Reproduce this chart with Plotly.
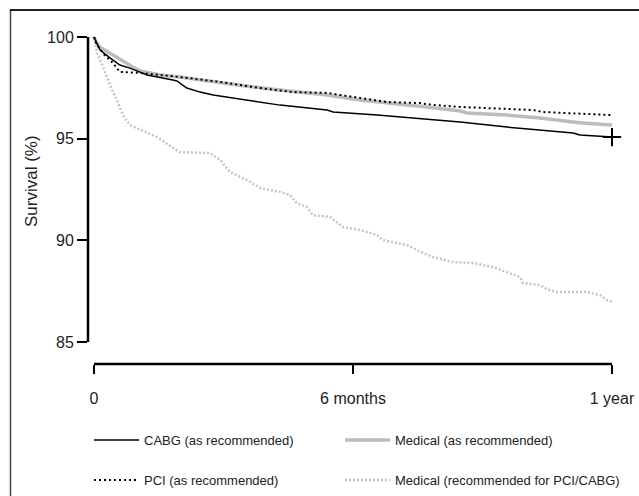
import plotly.graph_objects as go

# ---- data (months, survival %) ----
cabg_t = [0, 0.14, 0.37, 0.6, 0.83, 1.23, 1.83, 1.92, 2.15, 2.46, 2.76, 3.54, 4.31, 5.40, 5.54, 6.56, 7.85, 8.48, 9.57, 10.33, 11.10, 11.26, 12.0]
cabg_s = [100, 99.36, 98.97, 98.62, 98.47, 98.13, 97.88, 97.84, 97.49, 97.29, 97.15, 96.90, 96.65, 96.41, 96.31, 96.16, 95.92, 95.82, 95.57, 95.42, 95.28, 95.18, 95.08]

pci_t = [0, 0.07, 0.25, 0.44, 0.6, 1.07, 1.53, 1.99, 2.92, 3.50, 4.01, 4.61, 5.40, 5.70, 6.16, 6.79, 7.55, 7.85, 8.48, 10.17, 10.40, 10.96, 11.49, 12.0]
pci_s = [100, 99.6, 99.1, 98.72, 98.28, 98.23, 98.13, 98.03, 97.79, 97.59, 97.44, 97.29, 97.25, 97.15, 97.0, 96.8, 96.75, 96.66, 96.56, 96.41, 96.31, 96.26, 96.21, 96.16]

med_t = [0, 0.05, 0.14, 0.44, 0.72, 0.9, 1.07, 1.53, 1.99, 2.76, 3.50, 4.31, 5.40, 6.16, 6.93, 7.71, 8.48, 8.64, 9.57, 10.33, 11.10, 11.33, 12.0]
med_s = [100, 99.75, 99.5, 99.1, 98.77, 98.52, 98.33, 98.13, 98.03, 97.79, 97.59, 97.39, 97.15, 96.9, 96.75, 96.56, 96.36, 96.26, 96.16, 96.02, 95.82, 95.77, 95.67]

medrec_t = [0, 0.07, 0.19, 0.30, 0.42, 0.53, 0.67, 0.83, 1.07, 1.46, 1.83, 1.99, 2.69, 2.92, 3.15, 3.54, 3.85, 4.31, 4.54, 4.70, 4.93, 5.07, 5.47, 5.77, 6.16, 6.56, 6.69, 7.25, 7.48, 7.85, 8.32, 8.78, 9.24, 9.57, 9.87, 9.94, 10.33, 10.49, 10.72, 11.42, 11.72, 11.88, 12.0]
medrec_s = [100, 99.21, 98.62, 98.03, 97.39, 96.90, 96.16, 95.67, 95.43, 95.08, 94.54, 94.34, 94.29, 93.95, 93.36, 92.97, 92.57, 92.38, 92.23, 91.83, 91.64, 91.24, 91.15, 90.65, 90.51, 90.26, 90.01, 89.77, 89.52, 89.18, 88.93, 88.88, 88.69, 88.44, 88.19, 87.90, 87.80, 87.60, 87.46, 87.46, 87.31, 87.06, 86.97]

x_tickvals = [0, 6, 12]
x_ticktext = ["0", "6 months", "1 year"]
y_tickvals = [85, 90, 95, 100]
y_ticktext = ["85", "90", "95", "100"]

names = ["CABG (as recommended)", "PCI (as recommended)",
         "Medical (as recommended)", "Medical (recommended for PCI/CABG)"]

FONT = "Liberation Sans, Arial, Helvetica, sans-serif"

fig = go.Figure()
fig.add_trace(go.Scatter(x=medrec_t, y=medrec_s, mode="lines", name=names[3],
                         line=dict(color="#c4c4c4", width=2.5, dash="2px,2px"),
                         legend="legend4"))
fig.add_trace(go.Scatter(x=med_t, y=med_s, mode="lines", name=names[2],
                         line=dict(color="#bdbdbd", width=3.5),
                         legend="legend3"))
fig.add_trace(go.Scatter(x=cabg_t, y=cabg_s, mode="lines", name=names[0],
                         line=dict(color="black", width=1.5),
                         legend="legend"))
fig.add_trace(go.Scatter(x=pci_t, y=pci_s, mode="lines", name=names[1],
                         line=dict(color="black", width=2, dash="2px,3px"),
                         legend="legend2"))
fig.add_trace(go.Scatter(x=[cabg_t[-1]], y=[cabg_s[-1]], mode="markers", showlegend=False,
                         marker=dict(symbol="cross-thin", size=13, color="black",
                                     line=dict(color="black", width=2))))

W, H = 639, 496
L, R, T, B = 88, 14, 30, 132
pw, ph = W - L - R, H - T - B

def px2paper_x(px):
    return (px - L) / pw

def px2paper_y(py):
    return (H - B - py) / ph

xmin = -6 / 43.17
xmax = 12 + (W - R - 612) / 43.17
ymin = 85 - 22 / 20.333
ymax = 100 + 7 / 20.333

legend_common = dict(font=dict(family=FONT, size=13, color="#222"), bgcolor="rgba(0,0,0,0)",
                     itemwidth=45, xanchor="left", yanchor="middle", borderwidth=0)

lay_leg = {}
positions = {"legend": (89, 440), "legend2": (89, 480), "legend3": (340, 440), "legend4": (340, 480)}
for k, (px, py) in positions.items():
    lay_leg[k] = dict(legend_common, x=px2paper_x(px), y=px2paper_y(py))

fig.update_layout(
    width=W, height=H,
    margin=dict(l=L, r=R, t=T, b=B, autoexpand=False),
    plot_bgcolor="white", paper_bgcolor="white",
    font=dict(family=FONT, size=16, color="#222"),
    showlegend=True,
    xaxis=dict(range=[xmin, xmax], showgrid=False, zeroline=False, showline=False,
               tickvals=x_tickvals, ticktext=x_ticktext, ticks="outside", ticklen=9,
               tickwidth=2, tickcolor="black", tickfont=dict(size=16),
               ticklabelstandoff=11),
    yaxis=dict(range=[ymin, ymax], showgrid=False, zeroline=False, showline=False,
               tickvals=y_tickvals, ticktext=y_ticktext, ticks="outside", ticklen=10,
               tickwidth=2, tickcolor="black", tickfont=dict(size=16)),
    shapes=[
        dict(type="line", xref="paper", yref="y", x0=0, x1=0, y0=85, y1=100,
             line=dict(color="black", width=2.5)),
        dict(type="line", xref="x", yref="paper", x0=0, x1=12, y0=0, y1=0,
             line=dict(color="black", width=2.5)),
        dict(type="line", xref="paper", yref="paper", x0=px2paper_x(10.5), x1=px2paper_x(10.5),
             y0=px2paper_y(9), y1=px2paper_y(520), line=dict(color="#444", width=1.5)),
        dict(type="line", xref="paper", yref="paper", x0=px2paper_x(10), x1=px2paper_x(660),
             y0=px2paper_y(10), y1=px2paper_y(10), line=dict(color="#222", width=2)),
    ],
    annotations=[
        dict(text="Survival (%)", xref="paper", yref="paper", x=px2paper_x(32), y=px2paper_y(181),
             textangle=-90, showarrow=False, font=dict(family=FONT, size=17, color="#222"),
             xanchor="center", yanchor="middle"),
    ],
    **lay_leg,
)

fig.write_html("out.html")
